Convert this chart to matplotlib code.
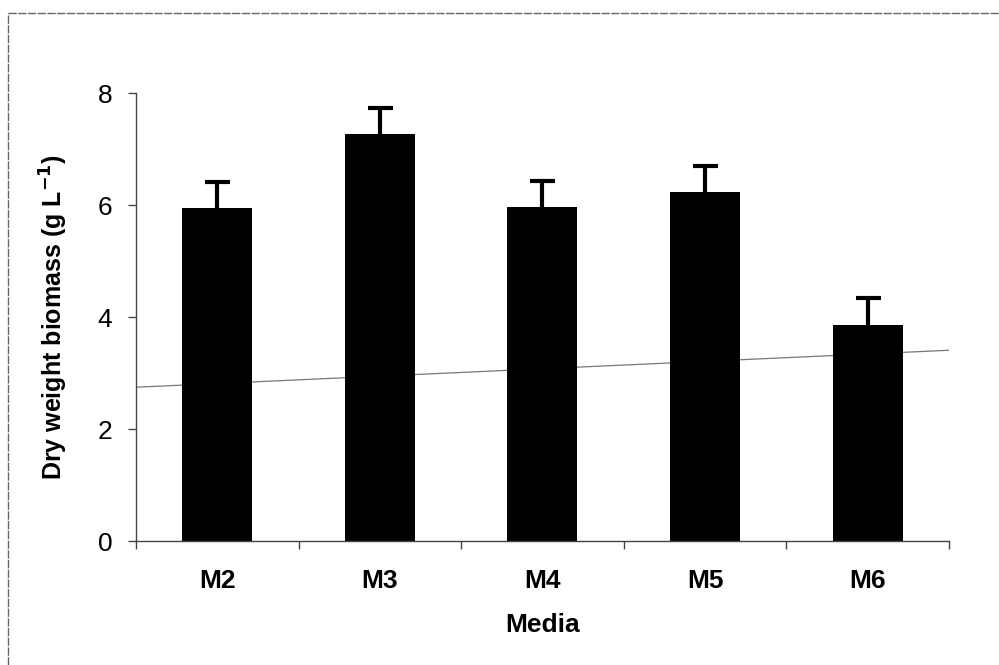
import matplotlib.pyplot as plt
from matplotlib.lines import Line2D

plt.rcParams['font.family'] = ['Liberation Sans', 'DejaVu Sans']

media = ["M2", "M3", "M4", "M5", "M6"]
biomass = [5.95, 7.27, 5.96, 6.23, 3.86]
err_up = [0.46, 0.46, 0.47, 0.47, 0.48]
trend_x = [-0.5, 4.5]
trend_y = [2.75, 3.41]

fig = plt.figure(figsize=(9.99, 6.65), dpi=100)
ax = fig.add_axes([0.136, 0.186, 0.814, 0.674])

x = range(len(media))
ax.plot(trend_x, trend_y, color="#777777", lw=0.9, zorder=1)
ax.bar(x, biomass, width=0.43, color="black", zorder=2)
eb = ax.errorbar(x, biomass, yerr=[[0] * len(media), err_up], fmt="none",
                 ecolor="black", elinewidth=3, capsize=9, capthick=3, zorder=3)
eb[1][0].set_visible(False)  # upper error bars only

ax.set_xlim(-0.5, 4.5)
ax.set_ylim(0, 8)
ax.set_yticks([0, 2, 4, 6, 8])
ax.set_xticks(list(x))
ax.set_xticklabels(media, fontweight="bold")
ax.set_xticks([i - 0.5 for i in range(len(media) + 1)], minor=True)
ax.tick_params(axis="x", which="major", length=0, labelsize=19, pad=20)
ax.tick_params(axis="x", which="minor", length=6, width=1, color="#444444")
ax.tick_params(axis="y", length=6, width=1, color="#444444", labelsize=19, pad=11)

for s in ["top", "right"]:
    ax.spines[s].set_visible(False)
for s in ["left", "bottom"]:
    ax.spines[s].set_color("#444444")
    ax.spines[s].set_linewidth(1)

ax.set_xlabel("Media", fontsize=19, fontweight="bold", labelpad=14)
ax.set_ylabel("Dry weight biomass (g L$^{\\mathbf{-1}}$)", fontsize=18,
              fontweight="bold", labelpad=20)

# outer frame (only left/top edges visible in the scan)
fig.add_artist(Line2D([0.008, 0.008], [0, 0.981], color="#666666", lw=1,
                      ls=(0, (6, 1)), transform=fig.transFigure))
fig.add_artist(Line2D([0.008, 1.0], [0.981, 0.981], color="#666666", lw=1,
                      ls=(0, (6, 1)), transform=fig.transFigure))

fig.savefig("out.png", dpi=100)
